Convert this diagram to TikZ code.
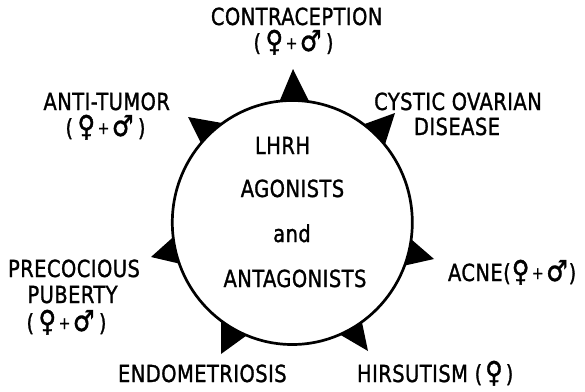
\documentclass[tikz,border=0pt]{standalone}
\usepackage{fontspec}
\setmainfont{DejaVu Sans Condensed}[LetterSpace=2,FakeBold=1.2,FakeStretch=0.92]
\usetikzlibrary{shapes.geometric}
\newcommand\femsym{{\fontsize{29}{29}\selectfont ♀}}
\newcommand\malsym{{\fontsize{29}{29}\selectfont ♂}}
\newcommand\plussym{\hspace{2.5pt}{\fontsize{17}{17}\selectfont\raisebox{2pt}{+}}\hspace{2.5pt}}
\newcommand\both{(\hspace{4.5pt}\femsym\plussym\malsym\hspace{4.5pt})}
\begin{document}
\begin{tikzpicture}[x=1pt,y=-1pt,
  lab/.style={font=\fontsize{23.5}{26}\selectfont, inner sep=0pt, outer sep=0pt},
  ring/.style={draw=black, line width=2.7pt, ellipse, inner sep=0pt, outer sep=0pt,
               minimum width=240pt, minimum height=244pt},
  tooth/.style={fill=black}]
\useasboundingbox (0,0) rectangle (585,391);

% central ring
\node[ring] (ring) at (292.3,222.5) {};

% apexes of the teeth
\coordinate (aT)  at (293,69);
\coordinate (aUL) at (188,117);
\coordinate (aUR) at (395,113);
\coordinate (aR)  at (434,259);
\coordinate (aL)  at (151,257);
\coordinate (aBL) at (221,354);
\coordinate (aBR) at (368,351);

\fill[tooth] (ring.82.7)  -- (aT)  -- (ring.96.2)  -- cycle;
\fill[tooth] (ring.125.7) -- (aUL) -- (ring.139.3) -- cycle;
\fill[tooth] (ring.40.6)  -- (aUR) -- (ring.54.6)  -- cycle;
\fill[tooth] (ring.-21.9) -- (aR)  -- (ring.-8)    -- cycle;
\fill[tooth] (ring.187.5) -- (aL)  -- (ring.200.9) -- cycle;
\fill[tooth] (ring.234.2) -- (aBL) -- (ring.248.4) -- cycle;
\fill[tooth] (ring.293.8) -- (aBR) -- (ring.305.9) -- cycle;

% centre text
\node[lab, anchor=base] (c1) at (282.5,154) {LHRH};
\node[lab, anchor=base] (c2) at (292.5,197) {AGONISTS};
\node[lab, anchor=base] (c3) at (292,242) {and};
\node[lab, anchor=base] (c4) at (295,287) {ANTAGONISTS};

% outer labels
\node[lab, anchor=base] (t1) at (296.7,25) {CONTRACEPTION};
\node[lab, anchor=base] (t2) at (293.5,51) {\both};

\node[lab, anchor=base] (ul1) at (106.7,110) {ANTI-TUMOR};
\node[lab, anchor=base] (ul2) at (105.5,136) {\both};

\node[lab, anchor=base] (ur1) at (458,110) {CYSTIC OVARIAN};
\node[lab, anchor=base] (ur2) at (457,135) {DISEASE};

\node[lab, anchor=base] (l1) at (74,277) {PRECOCIOUS};
\node[lab, anchor=base] (l2) at (72.5,303) {PUBERTY};
\node[lab, anchor=base] (l3) at (66.5,331) {\both};

\node[lab, anchor=base west] (r1) at (448,281) {ACNE(\hspace{1pt}\femsym\plussym\malsym\hspace{1pt})};

\node[lab, anchor=base west] (bl) at (118,382) {ENDOMETRIOSIS};
\node[lab, anchor=base west] (br) at (357,382) {HIRSUTISM (\hspace{3pt}\femsym\hspace{3pt})};
\end{tikzpicture}
\end{document}
